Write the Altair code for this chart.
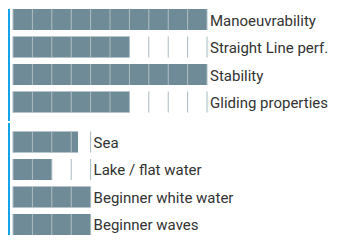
import altair as alt
import pandas as pd

# --- data ---
perf_labels = ["Manoeuvrability", "Straight Line perf.", "Stability", "Gliding properties"]
perf_values = [10, 6, 10, 6]
perf_max = 10

water_labels = ["Sea", "Lake / flat water", "Beginner white water", "Beginner waves"]
water_values = [3.35, 2, 4, 4]
water_max = 4

BAR = "#6f8b97"
SEP = "#a9bac1"
BLUE = "#13a3e8"
TXT = "#333333"
FONT = "Roboto"

W = 323
H = 112


def build(labels, values, vmax, align):
    fills = []
    seps = []
    for lab, v in zip(labels, values):
        k = 0
        while k < v:
            fills.append({"label": lab, "x": k, "x2": k + min(1, v - k)})
            k += 1
        for b in range(vmax + 1):
            seps.append({"label": lab, "x": b})
    texts = pd.DataFrame({"label": labels, "x": [vmax] * len(labels)})
    fills = pd.DataFrame(fills)
    seps = pd.DataFrame(seps)

    xs = alt.Scale(domain=[-0.258, 16.39], range=[0, W])
    ys = alt.Scale(domain=labels, paddingInner=0.236, paddingOuter=0.1545, align=align)

    y = alt.Y("label:N", scale=ys, axis=None, sort=labels)

    rects = alt.Chart(fills).mark_rect(color=BAR).encode(
        x=alt.X("x:Q", scale=xs, axis=None),
        x2="x2:Q",
        y=y,
    )
    ticks = alt.Chart(seps).mark_tick(color=SEP, thickness=1, size=21, orient="vertical", opacity=1).encode(
        x=alt.X("x:Q", scale=xs, axis=None),
        y=y,
    )
    text = alt.Chart(texts).mark_text(
        align="left", baseline="middle", dx=3, dy=1, font=FONT, fontSize=15, color=TXT
    ).encode(
        x=alt.X("x:Q", scale=xs, axis=None),
        y=y,
        text="label:N",
    )
    blue = alt.Chart(texts).mark_rule(color=BLUE, strokeWidth=2).encode(
        x=alt.value(1), y=alt.value(0), y2=alt.value(H)
    )
    return alt.layer(rects, ticks, text, blue).properties(width=W, height=H)


top = build(perf_labels, perf_values, perf_max, 0)
bottom = build(water_labels, water_values, water_max, 1)

chart = alt.vconcat(top, bottom, spacing=0).resolve_scale(y="independent").properties(
    padding=0
).configure_view(stroke=None)

chart.save("out.html", embed_options={"renderer": "svg", "actions": False})
